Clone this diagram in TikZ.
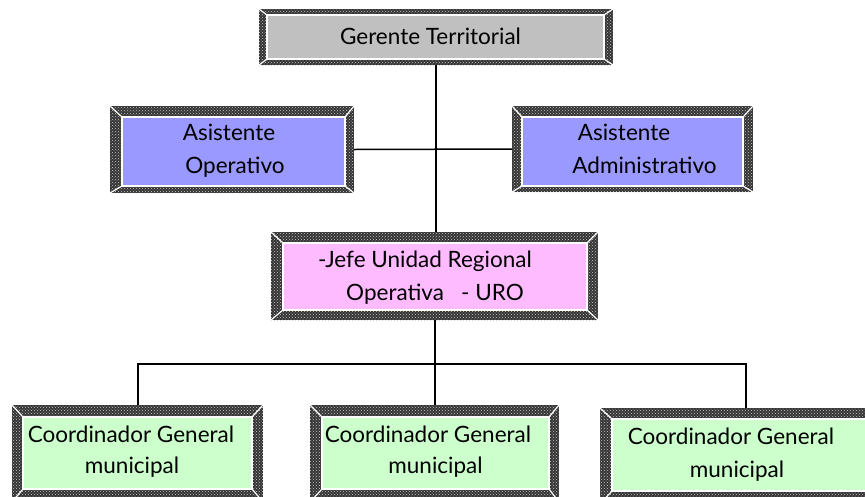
\documentclass[tikz,border=0pt]{standalone}
\usepackage{fontspec}
\setmainfont{Lato}
\usetikzlibrary{patterns,fit,calc}
\definecolor{gerfill}{HTML}{C0C0C0}
\definecolor{asifill}{HTML}{9999FF}
\definecolor{jefefill}{HTML}{FFBBFF}
\definecolor{coofill}{HTML}{CCFFCC}
\tikzset{
  framebg/.style={fill=black!80},
  framepat/.style={pattern=crosshatch dots, pattern color=black!20},
  bevel/.style={draw=white, line width=1.2pt},
  txt/.style={anchor=base, inner sep=0pt, font=\fontsize{22.5}{26}\selectfont},
  conn/.style={draw=black, line width=2pt},
}
% #1 name, #2 colour, #3 outer NW, #4 outer SE, #5 inner NW, #6 inner SE
\newcommand\orgbox[6]{%
  \path[framebg] (#3) rectangle (#4);
  \path[framepat] (#3) rectangle (#4);
  \path[fill=#2, bevel] (#5) rectangle (#6);
  \path let \p1=(#3), \p2=(#4), \p3=(#5), \p4=(#6) in
    [bevel] (\x1,\y1) -- (\x3,\y3)
            (\x2,\y1) -- (\x4,\y3)
            (\x1,\y2) -- (\x3,\y4)
            (\x2,\y2) -- (\x4,\y4);
  \node[fit={(#3)(#4)}, inner sep=0pt] (#1) {};
}
\begin{document}
\begin{tikzpicture}[x=1pt,y=-1pt]
\clip (0,0) rectangle (865,496);
\fill[white] (0,0) rectangle (865,496);

\orgbox{ger}{gerfill}{259,9}{613,65}{267,15}{604,59}
\orgbox{aop}{asifill}{110,106}{354,193}{122,117}{345,186}
\orgbox{aad}{asifill}{512,106}{753,192}{522,117}{743,186}
\orgbox{jefe}{jefefill}{271,232}{598,320}{283,243}{587,310}
\orgbox{c1}{coofill}{12,405}{263,502}{23,417}{252,489}
\orgbox{c2}{coofill}{310,405}{559,502}{322,417}{549,489}
\orgbox{c3}{coofill}{600,408}{892,504}{612,419}{880,491}

\node[txt] (tger) at (430.5,44) {Gerente Territorial};
\node[txt] (taop1) at (229,140) {Asistente};
\node[txt] (taop2) at (235,173) {Operativo};
\node[txt] (taad1) at (624,140) {Asistente};
\node[txt] (taad2) at (644.5,173) {Administrativo};
\node[txt] (tj1) at (425,267) {-Jefe Unidad Regional};
\node[txt] (tj2) at (435,300) {Operativa\ \ \ - URO};
\node[txt] (tc11) at (131,442) {Coordinador General};
\node[txt] (tc12) at (132,473) {municipal};
\node[txt] (tc21) at (428,442) {Coordinador General};
\node[txt] (tc22) at (435.5,473) {municipal};
\node[txt] (tc31) at (731,444) {Coordinador General};
\node[txt] (tc32) at (737,477) {municipal};

\coordinate (bus) at (435,364);
\draw[conn] (ger.south) -- (ger.south |- jefe.north);
\draw[conn, line width=1.5pt] (aop.east) -- (aad.west);
\draw[conn] (jefe.south) -- (jefe.south |- bus);
\draw[conn] (c1.north) -- (c1.north |- bus) -- (c3.north |- bus) -- (c3.north);
\draw[conn] (c2.north |- bus) -- (c2.north);
\end{tikzpicture}
\end{document}
